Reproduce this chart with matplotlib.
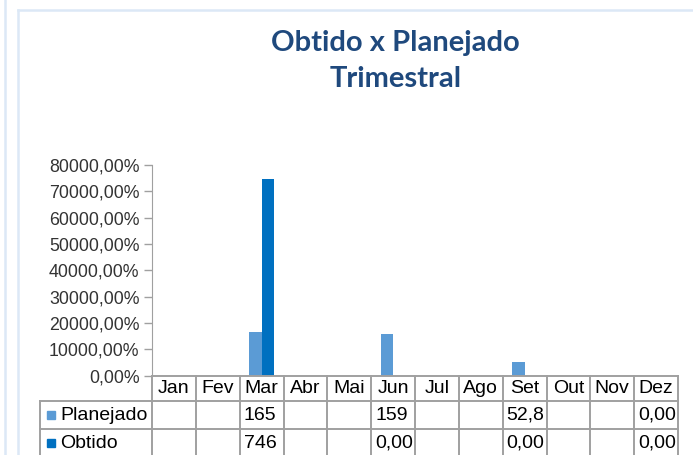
import matplotlib.pyplot as plt
import matplotlib.transforms as mtransforms
from matplotlib.patches import Rectangle
from matplotlib.ticker import FuncFormatter, MultipleLocator
import numpy as np

# dados (fração; 1 = 100%)
meses = ["Jan", "Fev", "Mar", "Abr", "Mai", "Jun", "Jul", "Ago", "Set", "Out", "Nov", "Dez"]
planejado = [None, None, 165, None, None, 159, None, None, 52.8, None, None, 0.0]
obtido = [None, None, 746, None, None, 0.0, None, None, 0.0, None, None, 0.0]
planejado_txt = ["", "", "165", "", "", "159", "", "", "52,8", "", "", "0,00"]
obtido_txt = ["", "", "746", "", "", "0,00", "", "", "0,00", "", "", "0,00"]

cor_plan = "#5B9BD5"
cor_obt = "#0070C0"
cor_grade = "#A0A0A0"

W, H = 693, 455
fig = plt.figure(figsize=(W / 100, H / 100), dpi=100)

# eixo principal (pixels da imagem de referência)
x0, x1 = 152, 678
ytop, ybot = 165, 375.7
ax = fig.add_axes([x0 / W, 1 - ybot / H, (x1 - x0) / W, (ybot - ytop) / H])

x = np.arange(len(meses))
larg = 0.285
p = np.array([v if v is not None else 0 for v in planejado])
o = np.array([v if v is not None else 0 for v in obtido])
ax.bar(x - larg / 2, p, larg, color=cor_plan, zorder=2)
ax.bar(x + larg / 2, o, larg, color=cor_obt, zorder=2)

ax.set_xlim(-0.5, len(meses) - 0.5)
ax.set_ylim(0, 800)
ax.yaxis.set_major_locator(MultipleLocator(100))
ax.yaxis.set_major_formatter(FuncFormatter(lambda v, _: f"{v * 100:.2f}".replace(".", ",") + "%"))
ax.set_xticks([])
for s in ["top", "right", "bottom"]:
    ax.spines[s].set_visible(False)
ax.spines["left"].set_color(cor_grade)
ax.tick_params(axis="y", colors=cor_grade, length=6, width=1, pad=3,
               labelcolor="#333333", labelsize=12.8)
for t in ax.get_yticklabels():
    t.set_fontfamily("Liberation Sans")

# tabela de dados
trans = mtransforms.blended_transform_factory(ax.transData, ax.transAxes)
px_y = ybot - ytop
px_x = (x1 - x0) / len(meses)
y_cab = -25.3 / px_y
y_l1 = -53.3 / px_y
y_fim = -100 / px_y
x_rot = -0.5 - (x0 - 40) / px_x
xd = len(meses) - 0.5
fs = 14
lkw = dict(color=cor_grade, lw=1.4, transform=trans, clip_on=False)

ax.plot([-0.5, xd], [0, 0], **lkw)
ax.plot([x_rot, xd], [y_cab, y_cab], **lkw)
ax.plot([x_rot, xd], [y_l1, y_l1], **lkw)
for i in range(len(meses) + 1):
    ax.plot([i - 0.5, i - 0.5], [0, y_fim], **lkw)
ax.plot([x_rot, x_rot], [y_cab, y_fim], **lkw)

for i, m in enumerate(meses):
    ax.text(i, y_cab / 2, m, transform=trans, ha="center", va="center",
            fontsize=fs, family="Liberation Sans", color="#000000")
pad = 4 / px_x
for i in range(len(meses)):
    ax.text(i - 0.5 + pad, (y_cab + y_l1) / 2, planejado_txt[i], transform=trans,
            ha="left", va="center", fontsize=fs, family="Liberation Sans")
    ax.text(i - 0.5 + pad, y_l1 + (y_l1 - y_cab) / 2, obtido_txt[i], transform=trans,
            ha="left", va="center", fontsize=fs, family="Liberation Sans")

sq_w = 8 / px_x
sq_h = 8 / px_y
for cy, nome, cor in [((y_cab + y_l1) / 2, "Planejado", cor_plan),
                      (y_l1 + (y_l1 - y_cab) / 2, "Obtido", cor_obt)]:
    ax.add_patch(Rectangle((x_rot + 7 / px_x, cy - sq_h / 2), sq_w, sq_h, color=cor,
                           transform=trans, clip_on=False))
    ax.text(x_rot + 20 / px_x, cy, nome, transform=trans, ha="left", va="center",
            fontsize=fs, family="Liberation Sans")

# título
cor_tit = "#1F497D"
fig.text(395 / W, 1 - 43 / H, "Obtido x Planejado", ha="center", va="center",
         fontsize=21, fontweight="bold", family="Lato", color=cor_tit)
fig.text(396 / W, 1 - 79 / H, "Trimestral", ha="center", va="center",
         fontsize=21, fontweight="bold", family="Lato", color=cor_tit)

# moldura
cor_mold = "#DCE8F6"
fig.add_artist(plt.Line2D([5 / W, 5 / W], [0, 1], color=cor_mold, lw=1.8))
fig.add_artist(plt.Line2D([18 / W, 18 / W], [0, 1 - 10 / H], color=cor_mold, lw=1.8))
fig.add_artist(plt.Line2D([18 / W, 1], [1 - 10 / H, 1 - 10 / H], color=cor_mold, lw=1.8))

fig.savefig("out.png", dpi=100)
